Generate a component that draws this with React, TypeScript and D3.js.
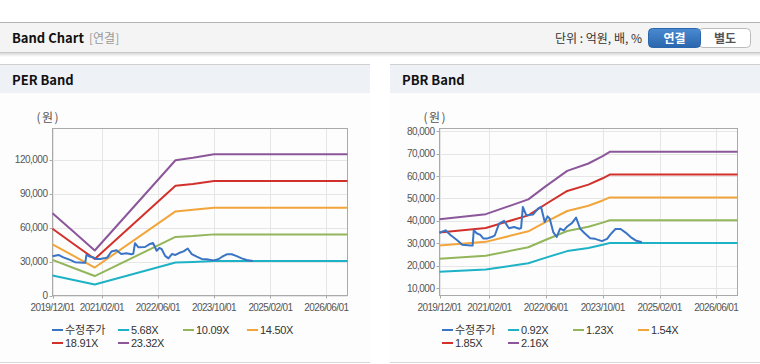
import React from 'react';
import * as d3 from 'd3';

// ---------- data ----------
const xTicks = ['2019-12-01', '2021-02-01', '2022-06-01', '2023-10-01', '2025-02-01', '2026-06-01'];
const xDomain = ['2019-12-01', '2026-12-01'];

const priceName = '수정주가';
const priceDates = [
  '2019-12-01', '2020-01-22', '2020-03-04', '2020-05-01', '2020-06-13', '2020-08-25', '2020-09-10',
  '2020-09-20', '2020-10-15', '2020-11-15', '2020-12-10', '2021-01-16', '2021-02-20', '2021-03-20',
  '2021-04-25', '2021-06-07', '2021-07-19', '2021-09-01', '2021-10-15', '2021-10-31', '2021-11-15',
  '2021-12-15', '2022-02-10', '2022-03-25', '2022-04-20', '2022-05-22', '2022-06-15', '2022-07-04',
  '2022-08-03', '2022-09-01', '2022-10-01', '2022-11-01', '2022-12-01', '2023-01-10', '2023-02-15',
  '2023-03-22', '2023-05-04', '2023-06-16', '2023-07-28', '2023-09-25', '2023-11-08', '2023-12-07',
  '2024-01-19', '2024-03-03', '2024-04-15', '2024-05-28', '2024-07-10', '2024-09-01',
];
const priceValues = [
  34700, 35800, 33700, 31400, 29400, 29000, 29000,
  35800, 34500, 33800, 32200, 32200, 32800, 33600,
  38800, 40000, 36700, 37300, 36500, 36800, 46200,
  42500, 42800, 45500, 46300, 39500, 42000, 41000,
  35000, 32800, 36600, 35800, 37500, 39000, 41500,
  36500, 34300, 32300, 32000, 31000, 32000, 34000,
  36400, 36400, 34800, 32800, 31300, 30500,
];

// PER band
const perLabels = ['5.68X', '10.09X', '14.50X', '18.91X', '23.32X'];
const perDates = ['2019-12-01', '2020-06-01', '2020-12-01', '2022-11-01', '2023-04-01', '2023-10-01', '2026-12-01'];
const per568 = [17680, 13700, 9670, 29080, 29500, 30370, 30370];
const per1009 = [31410, 24300, 17170, 51660, 52500, 53950, 53950];
const per1450 = [45140, 35000, 24680, 74240, 75600, 77530, 77530];
const per1891 = [58870, 45500, 32180, 96820, 98500, 101110, 101110];
const per2332 = [72600, 56200, 39700, 119400, 121500, 124690, 124690];
const perYTicks = [0, 30000, 60000, 90000, 120000];
const perYDomain = [0, 147400];

// PBR band
const pbrLabels = ['0.92X', '1.23X', '1.54X', '1.85X', '2.16X'];
const pbrDates = ['2019-12-01', '2021-01-01', '2022-01-01', '2022-06-01', '2022-12-01', '2023-06-01', '2023-10-01', '2023-12-01', '2026-12-01'];
const pbr092 = [17340, 18310, 21130, 23640, 26540, 27940, 29350, 30160, 30160];
const pbr123 = [23180, 24490, 28240, 31600, 35480, 37360, 39230, 40320, 40320];
const pbr154 = [29020, 30660, 35360, 39570, 44420, 46770, 49120, 50480, 50480];
const pbr185 = [34860, 36830, 42480, 47530, 53360, 56180, 59010, 60640, 60640];
const pbr216 = [40700, 43000, 49600, 55500, 62300, 65600, 68900, 70800, 70800];
const pbrYTicks = [10000, 20000, 30000, 40000, 50000, 60000, 70000, 80000];
const pbrYDomain = [6740, 81200];

const colors = ['#3a74c5', '#1eb2c6', '#93b65b', '#f2a53a', '#d2302b', '#8c579a'];

// ---------- components ----------
const parse = d3.timeParse('%Y-%m-%d');
const fmtDate = d3.timeFormat('%Y/%m/%d');
const fmtNum = d3.format(',');
const FONT = '"Liberation Sans", "Noto Sans CJK KR", sans-serif';
const KFONT = '"Noto Sans CJK KR", "Liberation Sans", sans-serif';

type Series = { name: string; dates: string[]; values: number[]; color: string };

function Panel(props: {
  x0: number; title: string; plotL: number; plotR: number;
  yDomain: number[]; yTicks: number[]; series: Series[]; legendX: number[];
}) {
  const { x0, title, plotL, plotR, yDomain, yTicks, series, legendX } = props;
  const plotT = 128.5, plotB = 295.5;
  const x = d3.scaleTime().domain(xDomain.map((d) => parse(d)!)).range([plotL, plotR]);
  const y = d3.scaleLinear().domain(yDomain).range([plotB, plotT]);
  const line = d3.line<[Date, number]>().x((d) => x(d[0])).y((d) => y(d[1]));
  const legendRows = [series.slice(0, 4), series.slice(4)];
  return (
    <g>
      <rect x={x0} y={64} width={370} height={299} fill="#fdfdfd" />
      <rect x={x0} y={64} width={370} height={29} fill="#eef2f7" />
      <line x1={x0} x2={x0 + 370} y1={64.5} y2={64.5} stroke="#d0d0d0" />
      <line x1={x0} x2={x0 + 370} y1={362.5} y2={362.5} stroke="#d8d8d8" />
      <text x={x0 + 12} y={85} fontFamily={KFONT} fontWeight="bold" fontSize={13} fill="#111">{title}</text>
      <text x={plotL - 16} y={122} fontFamily={KFONT} fontSize={12} letterSpacing={1.5} fill="#555">(원)</text>
      {/* grid */}
      {yTicks.map((t) => (
        <line key={'gy' + t} x1={plotL} x2={plotR} y1={Math.round(y(t)) + 0.5} y2={Math.round(y(t)) + 0.5} stroke="#e6e6e6" />
      ))}
      {xTicks.map((t) => (
        <line key={'gx' + t} x1={Math.round(x(parse(t)!)) + 0.5} x2={Math.round(x(parse(t)!)) + 0.5} y1={plotT} y2={plotB} stroke="#e6e6e6" />
      ))}
      <rect x={plotL} y={plotT} width={plotR - plotL} height={plotB - plotT} fill="none" stroke="#aaaaaa" />
      {yTicks.map((t) => (
        <g key={'ty' + t}>
          <line x1={plotL - 3} x2={plotL} y1={Math.round(y(t)) + 0.5} y2={Math.round(y(t)) + 0.5} stroke="#aaaaaa" />
          <text x={plotL - 5} y={y(t) + 3.5} textAnchor="end" fontFamily={FONT} fontSize={10} letterSpacing={-0.5} fill="#555">{fmtNum(t)}</text>
        </g>
      ))}
      {xTicks.map((t) => (
        <g key={'tx' + t}>
          <line x1={Math.round(x(parse(t)!)) + 0.5} x2={Math.round(x(parse(t)!)) + 0.5} y1={plotB} y2={plotB + 3} stroke="#aaaaaa" />
          <text x={x(parse(t)!)} y={310.5} textAnchor="middle" fontFamily={FONT} fontSize={10} letterSpacing={-0.6} fill="#555">{fmtDate(parse(t)!)}</text>
        </g>
      ))}
      {[...series.slice(1), series[0]].map((s) => (
        <path key={s.name} d={line(s.dates.map((d, i) => [parse(d)!, s.values[i]] as [Date, number]))!}
          fill="none" stroke={s.color} strokeWidth={2} strokeLinejoin="round" />
      ))}
      {/* legend */}
      {legendRows.map((row, ri) => row.map((s, ci) => (
        <g key={'lg' + s.name}>
          <line x1={legendX[ci]} x2={legendX[ci] + 11} y1={330 + ri * 13} y2={330 + ri * 13} stroke={s.color} strokeWidth={2} />
          <text x={legendX[ci] + 13} y={334 + ri * 13} fontFamily={s.name === priceName ? KFONT : FONT}
            fontSize={11} letterSpacing={s.name === priceName ? 0 : -0.3} fill="#333">{s.name}</text>
        </g>
      )))}
    </g>
  );
}

export default function App() {
  const perSeries: Series[] = [
    { name: priceName, dates: priceDates, values: priceValues, color: colors[0] },
    ...[per568, per1009, per1450, per1891, per2332].map((v, i) => ({ name: perLabels[i], dates: perDates, values: v, color: colors[i + 1] })),
  ];
  const pbrSeries: Series[] = [
    { name: priceName, dates: priceDates, values: priceValues, color: colors[0] },
    ...[pbr092, pbr123, pbr154, pbr185, pbr216].map((v, i) => ({ name: pbrLabels[i], dates: pbrDates, values: v, color: colors[i + 1] })),
  ];
  return (
    <svg width={760} height={364} style={{ position: 'absolute', left: 0, top: 0, background: '#fff' }}>
      <defs>
        <linearGradient id="btn" x1="0" x2="0" y1="0" y2="1">
          <stop offset="0" stopColor="#4a8ad0" />
          <stop offset="1" stopColor="#2a66ad" />
        </linearGradient>
        <linearGradient id="shadow" x1="0" x2="0" y1="0" y2="1">
          <stop offset="0" stopColor="#000" stopOpacity={0.15} />
          <stop offset="1" stopColor="#000" stopOpacity={0} />
        </linearGradient>
      </defs>
      {/* header */}
      <rect x={0} y={22} width={760} height={31} fill="#f4f4f4" />
      <line x1={0} x2={760} y1={22.5} y2={22.5} stroke="#b4b4b4" />
      <line x1={0} x2={760} y1={52.5} y2={52.5} stroke="#c8c8c8" />
      <rect x={0} y={53} width={760} height={4} fill="url(#shadow)" />
      <text x={12} y={43} fontFamily={KFONT} fontWeight="bold" fontSize={13} fill="#111">Band Chart</text>
      <text x={89} y={43} fontFamily={KFONT} fontSize={12} fill="#999">[연결]</text>
      <text x={642} y={43} textAnchor="end" fontFamily={KFONT} fontSize={12} fill="#333">단위 : 억원, 배, %</text>
      <rect x={699} y={28.5} width={51.5} height={19} rx={4} fill="#fff" stroke="#bbb" />
      <rect x={648.5} y={28.5} width={52} height={19} rx={4} fill="url(#btn)" stroke="#2a66ad" />
      <rect x={690} y={29} width={10} height={18} fill="url(#btn)" />
      <text x={674.5} y={42.5} textAnchor="middle" fontFamily={KFONT} fontWeight="bold" fontSize={12} fill="#fff">연결</text>
      <text x={725} y={42.5} textAnchor="middle" fontFamily={KFONT} fontWeight="bold" fontSize={12} fill="#555">별도</text>
      <Panel x0={0} title="PER Band" plotL={52.5} plotR={347.5} yDomain={perYDomain} yTicks={perYTicks}
        series={perSeries} legendX={[52, 118, 183, 247]} />
      <Panel x0={390} title="PBR Band" plotL={439.5} plotR={737.5} yDomain={pbrYDomain} yTicks={pbrYTicks}
        series={pbrSeries} legendX={[442, 508, 573, 638]} />
    </svg>
  );
}
